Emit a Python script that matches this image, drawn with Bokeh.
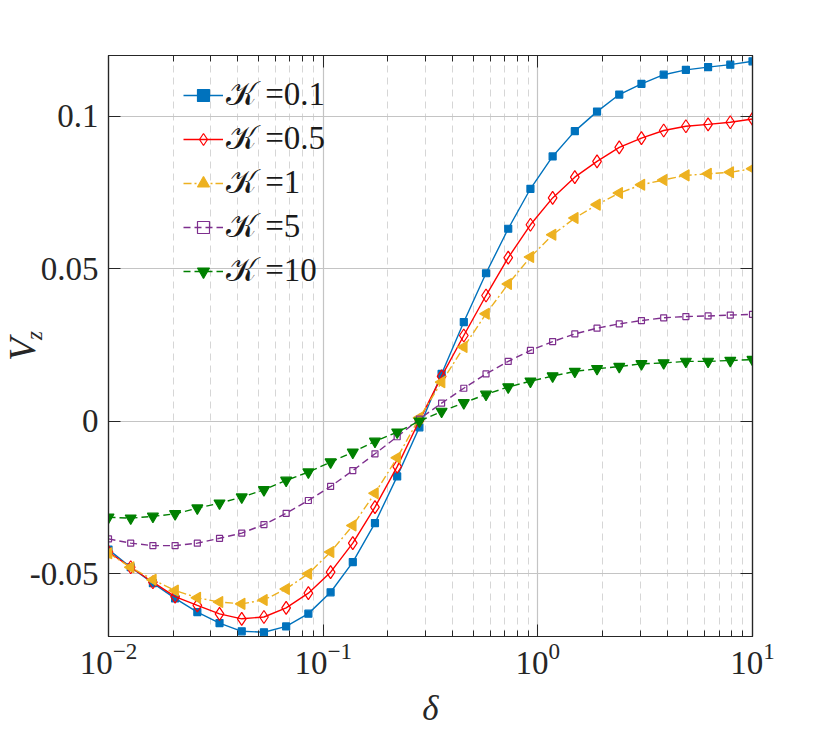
from bokeh.plotting import figure
from bokeh.models import (Range1d, FixedTicker, LogAxis, LinearAxis, Legend, LegendItem,
                          Label, CustomJSTickFormatter, LogTickFormatter, ColumnDataSource, GridBox)
from bokeh.embed import file_html
from bokeh.resources import INLINE

# ---- data ----
delta = [0.01, 0.01269, 0.01610, 0.02043, 0.02593, 0.03290, 0.04175, 0.05298, 0.06723, 0.08532,
         0.1083, 0.1374, 0.1743, 0.2212, 0.2807, 0.3562, 0.4520, 0.5736, 0.7279, 0.9237,
         1.172, 1.487, 1.887, 2.395, 3.039, 3.857, 4.894, 6.210, 7.880, 10.0]

vz_k01 = [-0.0420, -0.0478, -0.0530, -0.0580, -0.0625, -0.0661, -0.0688, -0.0691, -0.0672, -0.0630,
          -0.0560, -0.0461, -0.0333, -0.0180, -0.0019, 0.0156, 0.0326, 0.0486, 0.0632, 0.0763,
          0.0869, 0.0952, 0.1016, 0.1072, 0.1107, 0.1137, 0.1153, 0.1162, 0.1170, 0.1181]
vz_k05 = [-0.0428, -0.0478, -0.0527, -0.0574, -0.0603, -0.0631, -0.0647, -0.0641, -0.0611, -0.0563,
          -0.0494, -0.0399, -0.0281, -0.0148, 0.0003, 0.0148, 0.0282, 0.0413, 0.0537, 0.0645,
          0.0733, 0.0801, 0.0853, 0.0899, 0.0929, 0.0954, 0.0968, 0.0974, 0.0981, 0.0992]
vz_k1 = [-0.0432, -0.0478, -0.0519, -0.0554, -0.0578, -0.0592, -0.0598, -0.0585, -0.0549, -0.0499,
         -0.0428, -0.0341, -0.0235, -0.0119, 0.0012, 0.0129, 0.0244, 0.0353, 0.0451, 0.0539,
         0.0612, 0.0667, 0.0711, 0.0749, 0.0776, 0.0792, 0.0807, 0.0812, 0.0817, 0.0829]
vz_k5 = [-0.0385, -0.0399, -0.0407, -0.0407, -0.0399, -0.0383, -0.0366, -0.0338, -0.0301, -0.0259,
         -0.0213, -0.0161, -0.0106, -0.0050, 0.0008, 0.0060, 0.0109, 0.0156, 0.0197, 0.0233,
         0.0262, 0.0287, 0.0306, 0.0320, 0.0331, 0.0340, 0.0344, 0.0346, 0.0349, 0.0351]
vz_k10 = [-0.0314, -0.0317, -0.0311, -0.0303, -0.0284, -0.0268, -0.0248, -0.0224, -0.0193, -0.0166,
          -0.0133, -0.0101, -0.0065, -0.0035, 0.0001, 0.0033, 0.0061, 0.0089, 0.0113, 0.0132,
          0.0149, 0.0164, 0.0173, 0.0180, 0.0189, 0.0192, 0.0197, 0.0197, 0.0200, 0.0203]

series_labels = ["𝒦 =0.1", "𝒦 =0.5", "𝒦 =1", "𝒦 =5", "𝒦 =10"]

x_major = [0.01, 0.1, 1, 10]
x_minor = [0.02, 0.03, 0.04, 0.05, 0.06, 0.07, 0.08, 0.09,
           0.2, 0.3, 0.4, 0.5, 0.6, 0.7, 0.8, 0.9,
           2, 3, 4, 5, 6, 7, 8, 9]
y_ticks = [-0.05, 0, 0.05, 0.1]
y_tick_labels = {-0.05: "-0.05", 0: "0", 0.05: "0.05", 0.1: "0.1"}

FONT = "Liberation Serif"
AXC = "#262626"
LEFT, TOP, RIGHT, BOTTOM = 108, 55, 60, 92
FRAME_W, FRAME_H = 644, 581
W, H = LEFT + FRAME_W + RIGHT, TOP + FRAME_H + BOTTOM

p = figure(x_axis_type="log", frame_width=FRAME_W, frame_height=FRAME_H,
           x_range=Range1d(0.01, 10), y_range=Range1d(-0.0705, 0.12),
           output_backend="svg", toolbar_location=None,
           min_border_left=LEFT, min_border_top=TOP, min_border_right=RIGHT,
           min_border_bottom=BOTTOM)
p.outline_line_color = AXC
p.outline_line_width = 1.2
p.background_fill_color = "white"

xt = FixedTicker(ticks=x_major, minor_ticks=x_minor)
yt = FixedTicker(ticks=y_ticks, minor_ticks=[])

p.xgrid.ticker = xt
p.ygrid.ticker = yt
p.xgrid.grid_line_color = "#c4c4c4"
p.xgrid.grid_line_width = 1.2
p.ygrid.grid_line_color = "#c4c4c4"
p.ygrid.grid_line_width = 1.2
p.xgrid.minor_grid_line_color = "#d6d6d6"
p.xgrid.minor_grid_line_dash = "7 5"
p.xgrid.minor_grid_line_width = 1

def style_axis(ax, ticker):
    ax.ticker = ticker
    ax.axis_line_color = AXC
    ax.axis_line_width = 1.2
    ax.major_tick_line_color = AXC
    ax.minor_tick_line_color = AXC
    ax.major_tick_in = 12
    ax.major_tick_out = 0
    ax.minor_tick_in = 6
    ax.minor_tick_out = 0
    ax.major_label_text_font = FONT
    ax.major_label_text_font_size = "33px"
    ax.major_label_text_color = "#262626"

xa = p.xaxis[0]
style_axis(xa, xt)
xa.formatter = LogTickFormatter()
xa.major_label_standoff = 6
xa.axis_label = "δ"
xa.axis_label_text_font = FONT
xa.axis_label_text_font_style = "italic"
xa.axis_label_text_font_size = "35px"
xa.axis_label_text_color = "#262626"
xa.axis_label_standoff = 12

ya = p.yaxis[0]
style_axis(ya, yt)
ya.major_label_overrides = y_tick_labels
ya.major_label_standoff = 10

top = LogAxis(formatter=CustomJSTickFormatter(code="return ''"))
style_axis(top, xt)
top.major_label_text_font_size = "1px"
p.add_layout(top, "above")
right = LinearAxis(formatter=CustomJSTickFormatter(code="return ''"))
style_axis(right, yt)
right.major_label_text_font_size = "1px"
p.add_layout(right, "right")

styles = [
    dict(color="#0072BD", dash="solid", marker="square", size=7, fill=True, angle=0),
    dict(color="#FF0000", dash="solid", marker="diamond", size=13, fill=False, angle=0),
    dict(color="#EDB120", dash="8 3 2 3", marker="triangle", size=11, fill=True, angle=90),
    dict(color="#7E2F8E", dash="7 4", marker="square", size=6, fill=False, angle=0),
    dict(color="#008000", dash="7 4", marker="inverted_triangle", size=11, fill=True, angle=0),
]
ys = [vz_k01, vz_k05, vz_k1, vz_k5, vz_k10]

items = []
for yv, st, lab in zip(ys, styles, series_labels):
    src = ColumnDataSource(dict(x=delta, y=yv, a=[st["angle"]] * len(delta)))
    ln = p.line("x", "y", source=src, line_color=st["color"], line_width=1.4, line_dash=st["dash"])
    sc = p.scatter("x", "y", source=src, marker=st["marker"], size=st["size"],
                   angle="a", angle_units="deg",
                   line_color=st["color"], line_width=1.2,
                   fill_color=st["color"] if st["fill"] else None)
    items.append(LegendItem(label=lab, renderers=[ln, sc]))

legend = Legend(items=items, location=(75, 346), orientation="vertical")
legend.border_line_color = None
legend.background_fill_alpha = 0
legend.label_text_font = FONT
legend.label_text_font_size = "33px"
legend.label_text_color = "#1a1a1a"
legend.glyph_width = 40
legend.glyph_height = 30
legend.label_height = 30
legend.spacing = 6
legend.padding = 0
legend.margin = 0
legend.label_standoff = 3
p.add_layout(legend, "center")

# transparent overlay canvas (same grid cell, on top) holding the rotated y-axis label V_z
ov = figure(width=W, height=H, x_range=Range1d(0, W), y_range=Range1d(0, H),
            output_backend="svg", toolbar_location=None,
            x_axis_location=None, y_axis_location=None,
            min_border_left=0, min_border_right=0, min_border_top=0, min_border_bottom=0)
ov.frame_align = False
ov.outline_line_color = None
ov.xgrid.visible = False
ov.ygrid.visible = False
ov.background_fill_alpha = 0
ov.border_fill_alpha = 0
ov.add_layout(Label(x=21, y=H - 349, text="V", angle=90, angle_units="deg",
                    text_font=FONT, text_font_style="italic", text_font_size="38px",
                    text_color="#262626", text_align="center", text_baseline="middle"))
ov.add_layout(Label(x=34, y=H - 335, text="z", angle=90, angle_units="deg",
                    text_font=FONT, text_font_style="italic", text_font_size="23px",
                    text_color="#262626", text_align="center", text_baseline="middle"))

layout = GridBox(children=[(p, 0, 0), (ov, 0, 0)])
open("out.html", "w").write(file_html(layout, INLINE))
